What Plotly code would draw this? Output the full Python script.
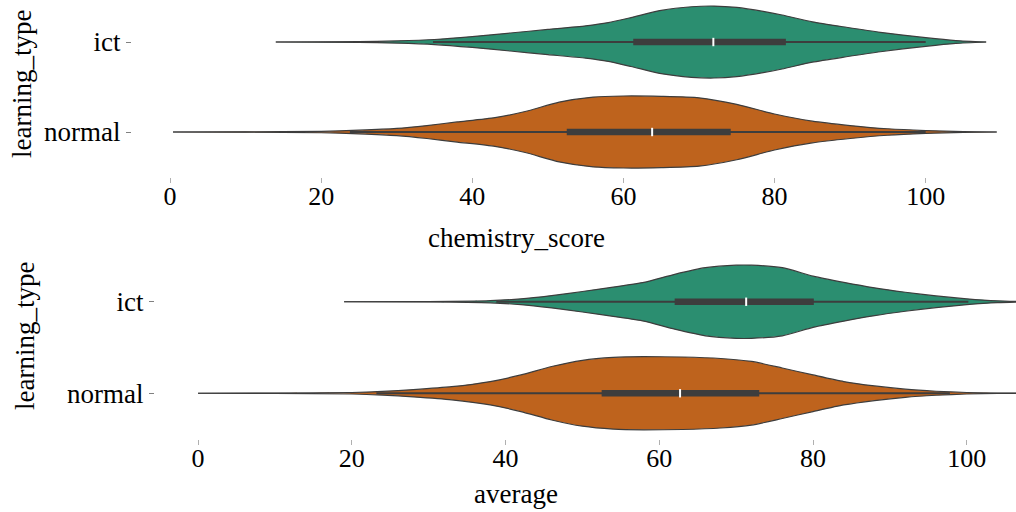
import plotly.graph_objects as go

# ---- data -------------------------------------------------------------
learning_types = ["ict", "normal"]
type_pos = {"ict": 1, "normal": 0}

# chemistry_score: relative kernel density along the score axis
chem_ict_score = [14, 25, 30, 35, 40, 45, 50, 55, 58, 61, 65, 69, 72, 75, 78.5, 81, 85, 89.5, 94, 100, 104, 108]
chem_ict_density = [0, 0.01, 0.03, 0.07, 0.15, 0.25, 0.35, 0.45, 0.54, 0.68, 0.88, 0.98, 1.0, 0.96, 0.85, 0.75, 0.56, 0.41, 0.27, 0.12, 0.04, 0]

chem_normal_score = [0.4, 10, 20, 25, 30, 34, 38, 43, 47, 51.5, 56, 60, 65, 70, 75, 80, 85, 90, 95, 100, 105, 109.4]
chem_normal_density = [0, 0.005, 0.02, 0.05, 0.1, 0.18, 0.28, 0.4, 0.57, 0.83, 0.97, 1.0, 0.99, 0.95, 0.77, 0.5, 0.3, 0.18, 0.09, 0.04, 0.01, 0]

# average: relative kernel density along the score axis
avg_ict_score = [19, 30, 38, 42, 46, 50, 54, 58, 62, 66, 70, 72, 76, 80, 84, 88, 92, 96, 100, 104, 108]
avg_ict_density = [0, 0.005, 0.03, 0.08, 0.17, 0.28, 0.4, 0.53, 0.75, 0.93, 1.0, 1.0, 0.93, 0.7, 0.53, 0.38, 0.26, 0.16, 0.08, 0.025, 0]

avg_normal_score = [0, 10, 20, 24, 28, 33, 38, 42, 46, 50, 54, 58, 63, 68, 72, 76, 80, 84, 88, 92, 96, 100, 104, 109]
avg_normal_density = [0, 0.003, 0.02, 0.05, 0.1, 0.18, 0.32, 0.5, 0.73, 0.9, 0.98, 1.0, 0.99, 0.95, 0.87, 0.69, 0.5, 0.32, 0.2, 0.11, 0.055, 0.02, 0.006, 0]

# box summaries: lower whisker, q1, median, q3, upper whisker
chem_ict_box = [34.8, 61.3, 71.9, 81.5, 100.0]
chem_normal_box = [23.8, 52.5, 63.8, 74.2, 100.0]
avg_ict_box = [38.8, 62.0, 71.3, 80.1, 100.2]
avg_normal_box = [23.2, 52.5, 62.7, 73.0, 97.8]

palette = {"ict": "#2b8e70", "normal": "#be631d"}
edge = "#3d3d3d"
font_family = "Liberation Serif, Times New Roman, serif"
half_width = 0.4

fig = go.Figure()


def add_violin(score, density, stats, kind, xa, ya):
    pos = type_pos[kind]
    lower = [pos - half_width * d for d in density]
    upper = [pos + half_width * d for d in density]
    outline = dict(color=edge, width=1.2, shape="spline", smoothing=0.6)
    fig.add_trace(go.Scatter(
        x=score, y=lower, xaxis=xa, yaxis=ya, mode="lines", line=outline,
        hoverinfo="skip", showlegend=False))
    fig.add_trace(go.Scatter(
        x=score, y=upper, xaxis=xa, yaxis=ya, mode="lines", fill="tonexty",
        fillcolor=palette[kind], line=outline,
        hoverinfo="skip", showlegend=False))
    lo, q1, med, q3, hi = stats
    # whisker
    fig.add_trace(go.Scatter(
        x=[lo, hi], y=[pos, pos], xaxis=xa, yaxis=ya, mode="lines",
        line=dict(color=edge, width=2), hoverinfo="skip", showlegend=False))
    # interquartile bar
    fig.add_trace(go.Scatter(
        x=[q1, q3], y=[pos, pos], xaxis=xa, yaxis=ya, mode="lines",
        line=dict(color=edge, width=6.5), hoverinfo="skip", showlegend=False))
    # median
    fig.add_trace(go.Scatter(
        x=[med], y=[pos], xaxis=xa, yaxis=ya, mode="markers",
        marker=dict(symbol="line-ns", size=6, line=dict(color="white", width=2)),
        hoverinfo="skip", showlegend=False))


add_violin(chem_ict_score, chem_ict_density, chem_ict_box, "ict", "x", "y")
add_violin(chem_normal_score, chem_normal_density, chem_normal_box, "normal", "x", "y")
add_violin(avg_ict_score, avg_ict_density, avg_ict_box, "ict", "x2", "y2")
add_violin(avg_normal_score, avg_normal_density, avg_normal_box, "normal", "x2", "y2")

W, H = 1016, 512

x_common = dict(
    tickvals=[0, 20, 40, 60, 80, 100], showgrid=False, zeroline=False,
    showline=False, ticks="outside", ticklen=5, tickcolor="#b0b0b0",
    ticklabelstandoff=-9,
    tickfont=dict(family=font_family, size=26, color="black"))
y_common = dict(
    tickvals=[type_pos[t] for t in learning_types], ticktext=learning_types,
    showgrid=False, zeroline=False, showline=False, ticks="outside",
    ticklen=5, tickcolor="#808080",
    tickfont=dict(family=font_family, size=27, color="black"))

fig.update_layout(
    width=W, height=H,
    margin=dict(l=0, r=0, t=0, b=0),
    paper_bgcolor="white", plot_bgcolor="white",
    xaxis=dict(domain=[132 / W, 1], range=[-5.03, 111.95], anchor="y", **x_common),
    yaxis=dict(domain=[1 - 177 / H, 1], range=[-0.5, 1.467], anchor="x", **y_common),
    xaxis2=dict(domain=[155 / W, 1], range=[-5.6, 106.4], anchor="y2", **x_common),
    yaxis2=dict(domain=[1 - 439 / H, 1 - 256 / H], range=[-0.5, 1.5], anchor="x2", **y_common),
)

title_font = dict(family=font_family, size=27, color="black")
for text, px, py, angle in [
    ("chemistry_score", 516, 238, 0),
    ("average", 516, 494, 0),
    ("learning_type", 22, 84, -90),
    ("learning_type", 25, 336, -90),
]:
    fig.add_annotation(
        text=text, x=px / W, y=1 - py / H, xref="paper", yref="paper",
        xanchor="center", yanchor="middle", showarrow=False,
        textangle=angle, font=title_font)

fig.write_html("out.html")
